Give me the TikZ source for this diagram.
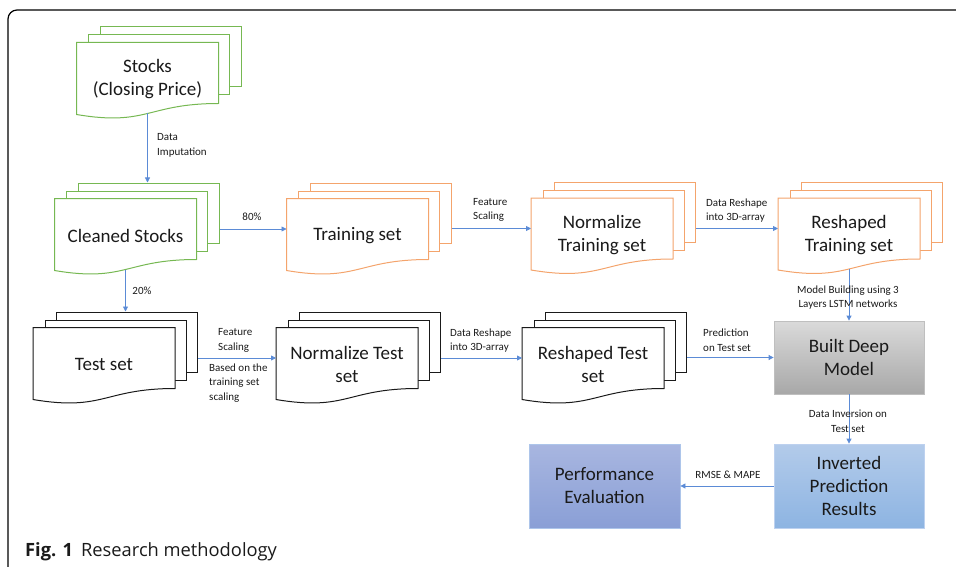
\documentclass[tikz,border=0pt]{standalone}
\usepackage{fontspec}
\setmainfont{Carlito}
\newfontfamily\capfont{Open Sans}
\usetikzlibrary{calc,arrows.meta}
\definecolor{docgreen}{HTML}{76B852}
\definecolor{docorange}{HTML}{F4A46C}
\definecolor{docblack}{HTML}{1A1A1A}
\definecolor{arrowc}{HTML}{5B8BD6}
\definecolor{txt}{HTML}{1A1A1A}
\definecolor{invtop}{HTML}{B3CBEA}
\definecolor{invbot}{HTML}{8DB4E2}
\definecolor{perftop}{HTML}{A8B6E0}
\definecolor{perfbot}{HTML}{8A9FD6}
\definecolor{builttop}{HTML}{DADADA}
\definecolor{builtbot}{HTML}{A8A8A8}
\tikzset{
  docpage/.style={rectangle, minimum width=141pt, minimum height=60pt, inner sep=0pt, fill=white, line width=1pt},
  doctext/.style={text=txt, align=center, font=\fontsize{19}{23}\selectfont},
  lbl/.style={text=txt, font=\fontsize{11}{14.5}\selectfont, inner sep=0pt},
  conn/.style={draw=arrowc, line width=0.8pt, -{Triangle[length=5pt,width=5pt]}},
  boxnode/.style={rectangle, inner sep=0pt, line width=0.8pt, text=txt, align=center, font=\fontsize{19}{23}\selectfont}
}
\newcommand\docstack[4]{%
  \node[docpage, draw=#3] (#1-b) at ($(#2)+(23,-16)$) {};
  \node[docpage, draw=#3] (#1-m) at ($(#2)+(11.5,-8)$) {};
  \node[docpage, draw=none, fill=none] (#1) at (#2) {};
  \draw[#3, fill=white, line width=1pt] (#1.north west) -- (#1.north east) -- (#1.south east)
     .. controls ($(#1.south)+(0,0)$) and ($(#1.south)+(0,23)$) .. ($(#1.south west)+(0,11)$) -- cycle;
  \coordinate (#1-w) at ($(#1.south)+(0,10)$);
  \node[doctext] (#1-t) at ($(#1.center)+(0,6.5)$) {#4};
}
\begin{document}
\begin{tikzpicture}[x=1pt,y=-1pt]
\useasboundingbox (0,0) rectangle (956,567);
% frame
\draw[line width=1.2pt, rounded corners=9pt] (8,567) -- (8,10) -- (956,10);

\docstack{stocks}{147.5,73}{docgreen}{Stocks\\(Closing Price)}
\docstack{cleaned}{125.5,229}{docgreen}{Cleaned Stocks}
\docstack{train}{357.5,229}{docorange}{Training set}
\docstack{normtr}{602,228.5}{docorange}{Normalize\\Training set}
\docstack{reshtr}{849,228.5}{docorange}{Reshaped\\Training set}
\docstack{test}{104,358}{docblack}{Test set}
\docstack{normte}{347,358}{docblack}{Normalize Test\\set}
\docstack{reshte}{593,358}{docblack}{Reshaped Test\\set}

\node[boxnode, minimum width=150pt, minimum height=73pt, draw=black!25, top color=builttop, bottom color=builtbot] (built) at (849,357.5) {Built Deep\\Model};
\node[boxnode, minimum width=150pt, minimum height=84pt, draw=arrowc!40, top color=invtop, bottom color=invbot] (inv) at (849,486) {Inverted\\Prediction\\Results};
\node[boxnode, minimum width=151pt, minimum height=84pt, draw=arrowc!50, top color=perftop, bottom color=perfbot] (perf) at (604.5,486) {Performance\\Evaluation};

% connectors
\draw[conn] (stocks-w) -- (stocks-w |- cleaned-b.north);
\draw[conn] (cleaned-b.east |- cleaned.east) -- (train.west);
\draw[conn] (cleaned-w) -- (cleaned-w |- test-b.north);
\draw[conn] (train-b.east |- normtr.west) -- (normtr.west);
\draw[conn] (normtr-b.east |- reshtr.west) -- (reshtr.west);
\draw[conn] (reshtr-w) -- (reshtr-w |- built.north);
\draw[conn] (test-b.east |- normte.west) -- (normte.west);
\draw[conn] (normte-b.east |- reshte.west) -- (reshte.west);
\draw[conn] (reshte-b.east |- built.west) -- (built.west);
\draw[conn] (built.south) -- (inv.north);
\draw[conn] (inv.west) -- (perf.east);

% labels
\node[lbl, align=left, anchor=west] (l1) at (157,145.5) {Data\\Imputation};
\node[lbl] (l2) at (252,217) {80\%};
\node[lbl] (l3) at (142,291) {20\%};
\node[lbl, align=left, anchor=west] (l4) at (473,210) {Feature\\Scaling};
\node[lbl, align=left, anchor=west] (l5) at (706,210.5) {Data Reshape\\into 3D-array};
\node[lbl, align=center] (l6) at (848,297.5) {Model Building using 3\\Layers LSTM networks};
\node[lbl, align=left, anchor=west] (l7) at (218,340.5) {Feature\\Scaling};
\node[lbl, align=left, anchor=west] (l8) at (209,383) {Based on the\\training set\\scaling};
\node[lbl, align=left, anchor=west] (l9) at (450,340.5) {Data Reshape\\into 3D-array};
\node[lbl, align=left, anchor=west] (l10) at (703,340) {Prediction\\on Test set};
\node[lbl, align=center] (l11) at (848,421.5) {Data Inversion on\\Test set};
\node[lbl] (l12) at (728,475) {RMSE \& MAPE};

% caption
\node[anchor=base west, inner sep=0pt, font=\capfont\fontsize{18.3}{22}\selectfont, text=txt] (cap) at (25,556.5) {\textbf{Fig. 1}\hspace{8pt}Research methodology};
\end{tikzpicture}
\end{document}
